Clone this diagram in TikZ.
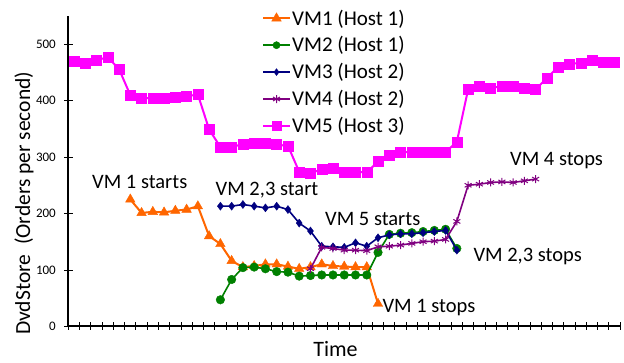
\documentclass[tikz,border=0pt]{standalone}
\usepackage{fontspec}
\setmainfont{Carlito}
\usetikzlibrary{plotmarks}
\definecolor{vmorange}{HTML}{FF6600}
\definecolor{vmgreen}{HTML}{008000}
\definecolor{vmnavy}{HTML}{000080}
\definecolor{vmpurple}{HTML}{800080}
\definecolor{vmmagenta}{HTML}{FF00FF}

\begin{document}
\begin{tikzpicture}[
  x=1pt, y=-1pt,
  axis/.style={draw=black, line width=2pt},
  tickmark/.style={draw=black, line width=0.8pt},
  ticklbl/.style={font=\fontsize{13}{15}\selectfont, anchor=east, inner sep=0pt},
  note/.style={font=\fontsize{20.5}{24}\selectfont, anchor=base west, inner sep=0pt},
  legtxt/.style={font=\fontsize{21}{25}\selectfont, anchor=base west, inner sep=0pt},
  vmone/.style={draw=vmorange, line width=2pt, mark=triangle*, mark size=5.5pt, mark options={solid, fill=vmorange, draw=vmorange, line width=0.4pt}},
  vmtwo/.style={draw=vmgreen, line width=1.6pt, mark=*, mark size=4.3pt, mark options={solid, fill=vmgreen, draw=vmgreen, line width=0.4pt}},
  vmthree/.style={draw=vmnavy, line width=1.6pt, mark=diamond*, mark size=4pt, mark options={solid, fill=vmnavy, draw=vmnavy, line width=0.4pt}},
  vmfour/.style={draw=vmpurple, line width=1.6pt, mark=asterisk, mark size=4pt, mark options={solid, draw=vmpurple, line width=1pt}},
  vmfive/.style={draw=vmmagenta, line width=2pt, mark=square*, mark size=5pt, mark options={solid, fill=vmmagenta, draw=vmmagenta, line width=0.4pt}}
]
  \useasboundingbox (0,0) rectangle (624,362);

  % axes
  \coordinate (origin) at (68.3,326.3);
  \coordinate (ytop) at (68.3,16);
  \coordinate (xend) at (620,326.3);
  \foreach \k in {0,...,49}
    \draw[tickmark] (68.3+\k*11.26,322.3) -- ++(0,8);
  \foreach \v in {0,100,...,500} {
    \draw[tickmark] (64,326.3-\v*0.564) -- (72.5,326.3-\v*0.564);
    \node[ticklbl] (yl\v) at (56,326.3-\v*0.564) {\v};
  }
  \draw[axis] (ytop) -- (origin) -- (xend);
  \node[font=\fontsize{21.5}{25}\selectfont, anchor=base west, rotate=90, inner sep=0pt] (ylabel) at (30,335) {DvdStore~~(Orders per second)};
  \node[font=\fontsize{22}{26}\selectfont, anchor=base, inner sep=0pt] (xlabel) at (335.5,356.5) {Time};

  % series
  \begin{scope}[shift={(62.74,326.3)}, x=11.26pt, y=0.564pt]
    \draw[vmone] plot coordinates {(6,225) (7,201) (8,203) (9,202) (10,205) (11,207) (12,213) (13,160) (14,146) (15,116) (16,105) (17,107) (18,110) (19,110) (20,106) (21,102) (22,105) (23,110) (24,107) (25,106) (26,105) (27,105) (28,40)};
    \draw[vmtwo] plot coordinates {(14,47) (15,83) (16,104) (17,105) (18,102) (19,97) (20,96) (21,89) (22,90) (23,91) (24,91) (25,91) (26,91) (27,91) (28,131) (29,163) (30,165) (31,166) (32,168) (33,170) (34,172) (35,138)};
    \draw[vmthree] plot coordinates {(14,213) (15,213) (16,216) (17,213) (18,210) (19,213) (20,207) (21,183) (22,169) (23,142) (24,141) (25,140) (26,148) (27,142) (28,157) (29,162) (30,164) (31,164) (32,166) (33,168) (34,170) (35,135)};
    \draw[vmfour] plot coordinates {(22,102) (23,140) (24,138) (25,135) (26,135) (27,134) (28,141) (29,142) (30,144) (31,147) (32,150) (33,151) (34,154) (35,186) (36,250) (37,252) (38,255) (39,256) (40,255) (41,258) (42,261)};
    \draw[vmfive] plot coordinates {(1,470) (2,466) (3,472) (4,477) (5,456) (6,410) (7,405) (8,404) (9,404) (10,406) (11,408) (12,411) (13,349) (14,318) (15,318) (16,323) (17,325) (18,325) (19,322) (20,320) (21,274) (22,272) (23,278) (24,280) (25,274) (26,274) (27,273) (28,292) (29,304) (30,309) (31,309) (32,309) (33,309) (34,309) (35,327) (36,420) (37,426) (38,423) (39,425) (40,425) (41,423) (42,420) (43,440) (44,460) (45,465) (46,467) (47,471) (48,469) (49,469)};
  \end{scope}

  % annotations
  \node[note] (vm1start) at (92,188.3) {VM 1 starts};
  \node[note] (vm23start) at (215.5,195) {VM 2,3 start};
  \node[note] (vm5start) at (325,225) {VM 5 starts};
  \node[note] (vm23stop) at (473.3,261.7) {VM 2,3 stops};
  \node[note] (vm1stop) at (382.3,312.7) {VM 1 stops};
  \node[note] (vm4stop) at (510,165) {VM 4 stops};

  % legend
  \draw[vmone, mark indices={2}] plot coordinates {(263,18.3) (276.5,18.3) (290,18.3)};
  \draw[vmtwo, mark size=3.6pt, mark indices={2}] plot coordinates {(263,45.2) (276.5,45.2) (290,45.2)};
  \draw[vmthree, mark size=3.4pt, mark indices={2}] plot coordinates {(263,72.1) (276.5,72.1) (290,72.1)};
  \draw[vmfour, mark indices={2}] plot coordinates {(263,99) (276.5,99) (290,99)};
  \draw[vmfive, mark size=4.3pt, mark indices={2}] plot coordinates {(263,125.9) (276.5,125.9) (290,125.9)};
  \node[legtxt] (leg1) at (292,25) {VM1 (Host 1)};
  \node[legtxt] (leg2) at (292,51.9) {VM2 (Host 1)};
  \node[legtxt] (leg3) at (292,78.8) {VM3 (Host 2)};
  \node[legtxt] (leg4) at (292,105.7) {VM4 (Host 2)};
  \node[legtxt] (leg5) at (292,132.6) {VM5 (Host 3)};
\end{tikzpicture}
\end{document}
